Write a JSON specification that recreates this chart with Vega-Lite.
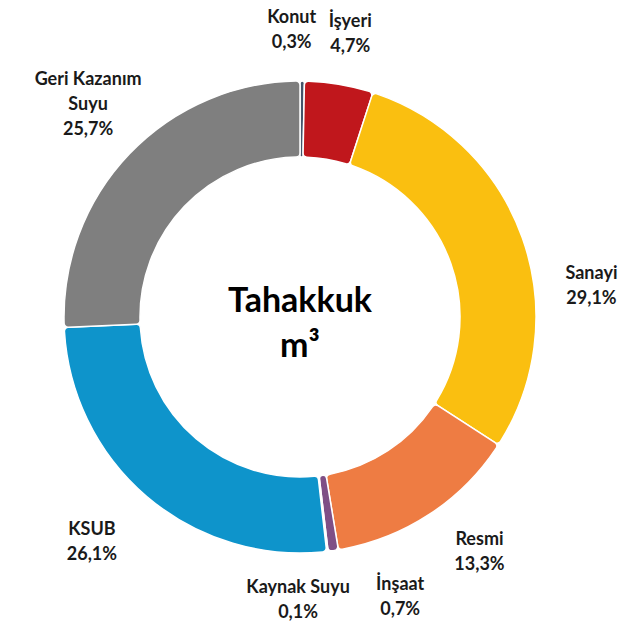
{
  "$schema": "https://vega.github.io/schema/vega-lite/v6.json",
  "width": 600,
  "height": 634,
  "autosize": "none",
  "padding": {"left": 0, "top": 0, "right": 34, "bottom": 1},
  "background": "white",
  "config": {"view": {"stroke": null}, "text": {"font": "Lato", "fontWeight": "bold", "color": "#1a1a1a", "lineBreak": "\n", "fontSize": 18, "lineHeight": 25, "baseline": "middle", "align": "center"}},
  "datasets": {
    "d": [
      {"o": 1, "cat": "Konut", "lbl": "Konut\n0,3%", "pct": 0.3},
      {"o": 2, "cat": "İşyeri", "lbl": "İşyeri\n4,7%", "pct": 4.7},
      {"o": 3, "cat": "Sanayi", "lbl": "Sanayi\n29,1%", "pct": 29.1},
      {"o": 4, "cat": "Resmi", "lbl": "Resmi\n13,3%", "pct": 13.3},
      {"o": 5, "cat": "İnşaat", "lbl": "İnşaat\n0,7%", "pct": 0.7},
      {"o": 6, "cat": "Kaynak Suyu", "lbl": "Kaynak Suyu\n0,1%", "pct": 0.1},
      {"o": 7, "cat": "KSUB", "lbl": "KSUB\n26,1%", "pct": 26.1},
      {"o": 8, "cat": "Geri Kazanım Suyu", "lbl": "Geri Kazanım\nSuyu\n25,7%", "pct": 25.7}
    ]
  },
  "data": {"name": "d"},
  "encoding": {
    "theta": {"field": "pct", "type": "quantitative", "stack": true},
    "order": {"field": "o", "type": "quantitative"}
  },
  "layer": [
    {
      "mark": {"type": "arc", "outerRadius": 236, "innerRadius": 160, "stroke": "white", "strokeWidth": 1.5, "cornerRadius": 4},
      "encoding": {
        "color": {
          "field": "cat", "type": "nominal", "legend": null,
          "scale": {
            "domain": ["Konut", "İşyeri", "Sanayi", "Resmi", "İnşaat", "Kaynak Suyu", "KSUB", "Geri Kazanım Suyu"],
            "range": ["#44546A", "#C0171C", "#FABF10", "#EE7C43", "#7F4F86", "#B4C7E7", "#0E94CB", "#7F7F7F"]
          }
        }
      }
    },
    {
      "mark": {"type": "text", "radius": 285, "dx": -11, "dy": -14},
      "encoding": {"text": {"condition": {"test": "datum.cat == 'Konut'", "field": "lbl"}, "value": ""}}
    },
    {
      "mark": {"type": "text", "radius": 285, "dx": 3, "dy": -14},
      "encoding": {"text": {"condition": {"test": "datum.cat == 'İşyeri'", "field": "lbl"}, "value": ""}}
    },
    {
      "mark": {"type": "text", "radius": 285, "dx": 23, "dy": 53},
      "encoding": {"text": {"condition": {"test": "datum.cat == 'Sanayi'", "field": "lbl"}, "value": ""}}
    },
    {
      "mark": {"type": "text", "radius": 285, "dx": 23, "dy": -15},
      "encoding": {"text": {"condition": {"test": "datum.cat == 'Resmi'", "field": "lbl"}, "value": ""}}
    },
    {
      "mark": {"type": "text", "radius": 285, "dx": 60, "dy": -14},
      "encoding": {"text": {"condition": {"test": "datum.cat == 'İnşaat'", "field": "lbl"}, "value": ""}}
    },
    {
      "mark": {"type": "text", "radius": 285, "dx": -35, "dy": -12},
      "encoding": {"text": {"condition": {"test": "datum.cat == 'Kaynak Suyu'", "field": "lbl"}, "value": ""}}
    },
    {
      "mark": {"type": "text", "radius": 285, "dx": -23, "dy": -4},
      "encoding": {"text": {"condition": {"test": "datum.cat == 'KSUB'", "field": "lbl"}, "value": ""}}
    },
    {
      "mark": {"type": "text", "radius": 285, "dx": -6, "dy": -40},
      "encoding": {"text": {"condition": {"test": "datum.cat == 'Geri Kazanım Suyu'", "field": "lbl"}, "value": ""}}
    },
    {
      "data": {"values": [{"t": "Tahakkuk\nm³"}]},
      "mark": {"type": "text", "fontSize": 34, "lineHeight": 45, "dy": -15, "color": "#000000"},
      "encoding": {"text": {"field": "t"}, "theta": null, "order": null}
    }
  ]
}
